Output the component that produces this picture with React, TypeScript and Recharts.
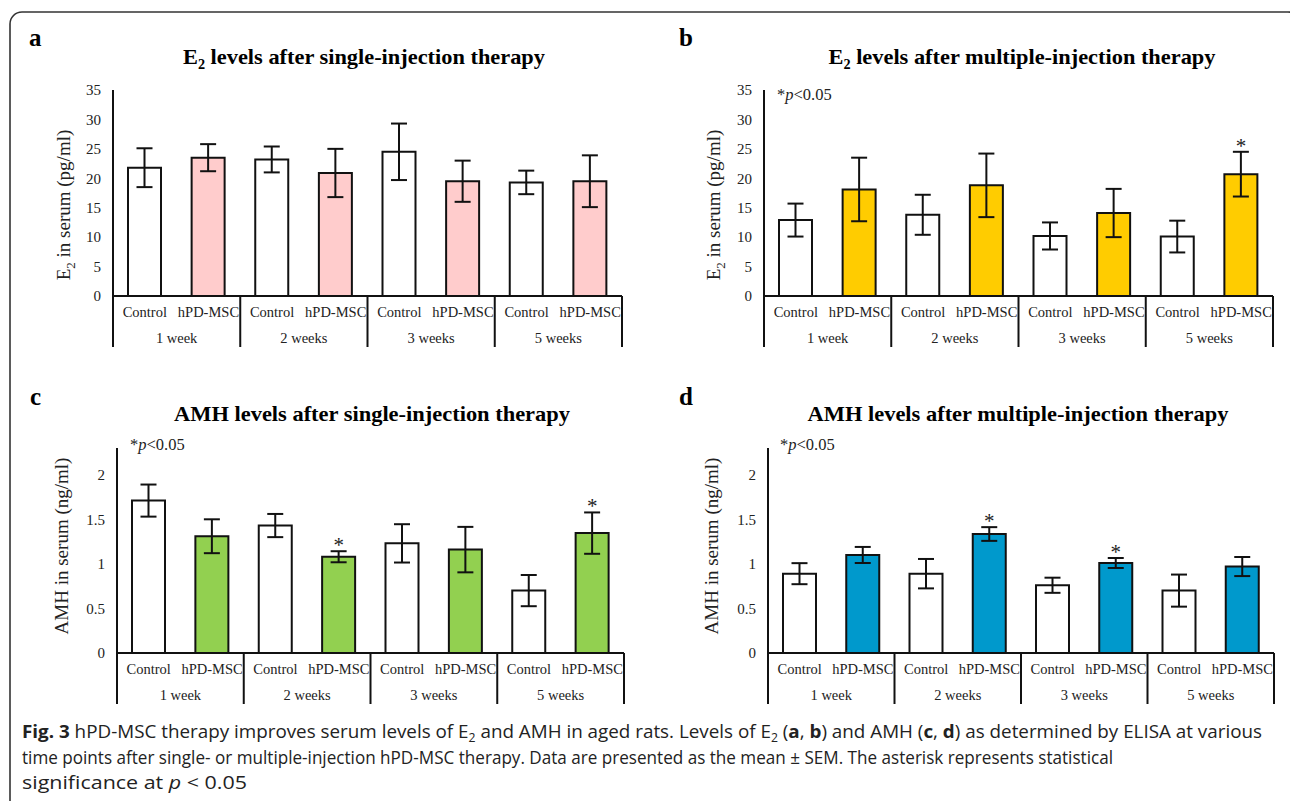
import React from "react";
import { BarChart, Bar, XAxis, YAxis, ErrorBar, Cell, LabelList } from "recharts";

// ---------- data ----------
const WEEKS = ["1 week", "2 weeks", "3 weeks", "5 weeks"];
const GROUPS = ["Control", "hPD-MSC"];

// a: E2, single injection (pg/ml)
const e2SingleControl = [21.8, 23.2, 24.5, 19.3];
const e2SingleControlSem = [3.3, 2.2, 4.8, 2.0];
const e2SingleHpd = [23.5, 20.9, 19.5, 19.5];
const e2SingleHpdSem = [2.3, 4.1, 3.5, 4.4];
const e2SingleSig = [false, false, false, false];

// b: E2, multiple injection (pg/ml)
const e2MultiControl = [12.9, 13.8, 10.2, 10.1];
const e2MultiControlSem = [2.8, 3.4, 2.3, 2.7];
const e2MultiHpd = [18.1, 18.8, 14.1, 20.7];
const e2MultiHpdSem = [5.4, 5.4, 4.1, 3.8];
const e2MultiSig = [false, false, false, true];

// c: AMH, single injection (ng/ml)
const amhSingleControl = [1.71, 1.43, 1.23, 0.7];
const amhSingleControlSem = [0.18, 0.13, 0.215, 0.175];
const amhSingleHpd = [1.31, 1.08, 1.16, 1.345];
const amhSingleHpdSem = [0.19, 0.062, 0.255, 0.232];
const amhSingleSig = [false, true, false, true];

// d: AMH, multiple injection (ng/ml)
const amhMultiControl = [0.89, 0.89, 0.76, 0.7];
const amhMultiControlSem = [0.118, 0.165, 0.085, 0.18];
const amhMultiHpd = [1.1, 1.335, 1.01, 0.97];
const amhMultiHpdSem = [0.09, 0.077, 0.056, 0.107];
const amhMultiSig = [false, true, true, false];

const e2Ticks = [0, 5, 10, 15, 20, 25, 30, 35];
const amhTicks = [0, 0.5, 1, 1.5, 2];

// ---------- styles ----------
const SERIF = "'Liberation Serif', 'Times New Roman', serif";
const SANS = "'Open Sans', 'Noto Sans', sans-serif";
const INK = "#111";
const TXT = "#222";

type Row = {
  key: string;
  group: string;
  week: string;
  value: number;
  sem: number;
  sig: boolean;
  treated: boolean;
};

function buildRows(ctrl: number[], ctrlSem: number[], hpd: number[], hpdSem: number[], sig: boolean[]): Row[] {
  const rows: Row[] = [];
  WEEKS.forEach((w, i) => {
    rows.push({ key: GROUPS[0] + "|" + w, group: GROUPS[0], week: w, value: ctrl[i], sem: ctrlSem[i], sig: false, treated: false });
    rows.push({ key: GROUPS[1] + "|" + w, group: GROUPS[1], week: w, value: hpd[i], sem: hpdSem[i], sig: sig[i], treated: true });
  });
  return rows;
}

function makeXTick(rows: Row[], slot: number) {
  return (props: any) => {
    const { x, y, index } = props;
    const row = rows[index];
    if (!row) return null;
    return (
      <g>
        <text x={x} y={y + 21} textAnchor="middle" fill={TXT} fontSize={14.5} fontFamily={SERIF}>
          {row.group}
        </text>
        {index % 2 === 0 && (
          <line x1={x - slot / 2} x2={x - slot / 2} y1={y} y2={y + 51} stroke={INK} strokeWidth={2} />
        )}
        {index % 2 === 1 && (
          <text x={x - slot / 2} y={y + 47} textAnchor="middle" fill={TXT} fontSize={14.5} fontFamily={SERIF}>
            {row.week}
          </text>
        )}
        {index === rows.length - 1 && (
          <line x1={x + slot / 2} x2={x + slot / 2} y1={y} y2={y + 51} stroke={INK} strokeWidth={2} />
        )}
      </g>
    );
  };
}

function makeStar(rows: Row[]) {
  return (props: any) => {
    const { x, y, width, height, index } = props;
    const row = rows[index];
    if (!row || !row.sig) return null;
    const errPx = (row.sem * height) / row.value;
    return (
      <text x={x + width / 2} y={y - errPx + 1} textAnchor="middle" fill="#222" fontSize={21} fontFamily={SERIF}>
        *
      </text>
    );
  };
}

type PanelProps = {
  left: number;
  top: number;
  width: number;
  height: number;
  margin: { top: number; right: number; bottom: number; left: number };
  yWidth: number;
  xHeight: number;
  domain: [number, number];
  ticks: number[];
  rows: Row[];
  color: string;
};

function Panel(p: PanelProps) {
  const plotW = p.width - p.margin.left - p.margin.right - p.yWidth;
  const slot = plotW / p.rows.length;
  return (
    <div style={{ position: "absolute", left: p.left, top: p.top }}>
      <BarChart width={p.width} height={p.height} data={p.rows} margin={p.margin} barSize={33}>
        <XAxis
          dataKey="key"
          height={p.xHeight}
          interval={0}
          tickLine={false}
          tickSize={0}
          tickMargin={0}
          axisLine={{ stroke: INK, strokeWidth: 2 }}
          tick={makeXTick(p.rows, slot)}
        />
        <YAxis
          type="number"
          width={p.yWidth}
          domain={p.domain}
          ticks={p.ticks}
          interval={0}
          allowDataOverflow
          tickLine={false}
          tickMargin={6}
          axisLine={{ stroke: INK, strokeWidth: 2 }}
          tick={{ fill: TXT, fontSize: 15, fontFamily: SERIF }}
        />
        <Bar dataKey="value" stroke={INK} strokeWidth={2} isAnimationActive={false}>
          {p.rows.map((r) => (
            <Cell key={r.key} fill={r.treated ? p.color : "#ffffff"} />
          ))}
          <ErrorBar dataKey="sem" width={8} strokeWidth={2} stroke={INK} direction="y" />
          <LabelList dataKey="sem" content={makeStar(p.rows)} />
        </Bar>
      </BarChart>
    </div>
  );
}

const rowsA = buildRows(e2SingleControl, e2SingleControlSem, e2SingleHpd, e2SingleHpdSem, e2SingleSig);
const rowsB = buildRows(e2MultiControl, e2MultiControlSem, e2MultiHpd, e2MultiHpdSem, e2MultiSig);
const rowsC = buildRows(amhSingleControl, amhSingleControlSem, amhSingleHpd, amhSingleHpdSem, amhSingleSig);
const rowsD = buildRows(amhMultiControl, amhMultiControlSem, amhMultiHpd, amhMultiHpdSem, amhMultiSig);

function Title({ x, y, len, pre, sub, post }: { x: number; y: number; len: number; pre: string; sub?: string; post: string }) {
  return (
    <text
      x={x}
      y={y}
      textAnchor="middle"
      fontFamily={SERIF}
      fontWeight="bold"
      fontSize={22}
      fill="#000"
      textLength={len}
      lengthAdjust="spacingAndGlyphs"
    >
      {pre}
      {sub && (
        <tspan dy={5} fontSize={14}>
          {sub}
        </tspan>
      )}
      {post && <tspan dy={sub ? -5 : 0}>{post}</tspan>}
    </text>
  );
}

function YLabel({ x, y, pre, sub, post }: { x: number; y: number; pre: string; sub?: string; post: string }) {
  return (
    <text
      x={x}
      y={y}
      transform={`rotate(-90, ${x}, ${y})`}
      textAnchor="middle"
      fontFamily={SERIF}
      fontSize={19}
      fill={TXT}
    >
      {pre}
      {sub && (
        <tspan dy={5} fontSize={13}>
          {sub}
        </tspan>
      )}
      {post && <tspan dy={sub ? -5 : 0}>{post}</tspan>}
    </text>
  );
}

function PNote({ x, y }: { x: number; y: number }) {
  return (
    <text x={x} y={y} fontFamily={SERIF} fontSize={16.5} fill={TXT}>
      *<tspan fontStyle="italic">p</tspan>&lt;0.05
    </text>
  );
}

function Letter({ x, y, t }: { x: number; y: number; t: string }) {
  return (
    <text x={x} y={y} fontFamily={SERIF} fontWeight="bold" fontSize={25} fill="#000">
      {t}
    </text>
  );
}

export default function App() {
  return (
    <div style={{ position: "absolute", left: 0, top: 0, width: 1290, height: 801, background: "#fff", overflow: "hidden" }}>
      <svg width={1290} height={801} style={{ position: "absolute", left: 0, top: 0 }}>
        <rect x={10} y={12} width={1290} height={800} rx={12} fill="none" stroke="#333" strokeWidth={1.6} />
        <Letter x={29} y={46} t="a" />
        <Letter x={679} y={46} t="b" />
        <Letter x={30} y={405} t="c" />
        <Letter x={679} y={405} t="d" />
        <Title x={364} y={64} len={362} pre="E" sub="2" post=" levels after single-injection therapy" />
        <Title x={1022} y={64} len={387} pre="E" sub="2" post=" levels after multiple-injection therapy" />
        <Title x={372} y={421} len={396} pre="AMH levels after single-injection therapy" post="" />
        <Title x={1018} y={421} len={421} pre="AMH levels after multiple-injection therapy" post="" />
        <YLabel x={70} y={205} pre="E" sub="2" post=" in serum (pg/ml)" />
        <YLabel x={720} y={205} pre="E" sub="2" post=" in serum (pg/ml)" />
        <YLabel x={68} y={546} pre="AMH in serum (ng/ml)" post="" />
        <YLabel x={718} y={546} pre="AMH in serum (ng/ml)" post="" />
        <PNote x={777} y={100} />
        <PNote x={130} y={450} />
        <PNote x={780} y={450} />
        <text x={22} y={738} fontFamily={SANS} fontSize={18.5} fill={TXT} textLength={1240} lengthAdjust="spacingAndGlyphs">
          <tspan fontWeight="bold">Fig. 3</tspan> hPD-MSC therapy improves serum levels of E<tspan dy={4} fontSize={12}>2</tspan>
          <tspan dy={-4}> and AMH in aged rats. Levels of E</tspan>
          <tspan dy={4} fontSize={12}>2</tspan>
          <tspan dy={-4}> (</tspan>
          <tspan fontWeight="bold">a</tspan>, <tspan fontWeight="bold">b</tspan>) and AMH (<tspan fontWeight="bold">c</tspan>,{" "}
          <tspan fontWeight="bold">d</tspan>) as determined by ELISA at various
        </text>
        <text x={22} y={764} fontFamily={SANS} fontSize={18.5} fill={TXT} textLength={1091} lengthAdjust="spacingAndGlyphs">
          time points after single- or multiple-injection hPD-MSC therapy. Data are presented as the mean ± SEM. The asterisk represents statistical
        </text>
        <text x={22} y={789} fontFamily={SANS} fontSize={18.5} fill={TXT} textLength={225} lengthAdjust="spacingAndGlyphs">
          significance at <tspan fontStyle="italic">p</tspan> &lt; 0.05
        </text>
      </svg>
      <Panel
        left={0}
        top={70}
        width={640}
        height={290}
        margin={{ top: 20, right: 18, bottom: 4, left: 63 }}
        yWidth={50}
        xHeight={60}
        domain={[0, 35]}
        ticks={e2Ticks}
        rows={rowsA}
        color="#FFCCCC"
      />
      <Panel
        left={645}
        top={70}
        width={645}
        height={290}
        margin={{ top: 20, right: 17, bottom: 4, left: 69 }}
        yWidth={50}
        xHeight={60}
        domain={[0, 35]}
        ticks={e2Ticks}
        rows={rowsB}
        color="#FFCC00"
      />
      <Panel
        left={0}
        top={430}
        width={640}
        height={285}
        margin={{ top: 18, right: 16, bottom: 4, left: 67 }}
        yWidth={50}
        xHeight={58}
        domain={[0, 2.3]}
        ticks={amhTicks}
        rows={rowsC}
        color="#92D050"
      />
      <Panel
        left={645}
        top={430}
        width={645}
        height={285}
        margin={{ top: 18, right: 16, bottom: 4, left: 73 }}
        yWidth={50}
        xHeight={58}
        domain={[0, 2.3]}
        ticks={amhTicks}
        rows={rowsD}
        color="#0099CC"
      />
    </div>
  );
}
